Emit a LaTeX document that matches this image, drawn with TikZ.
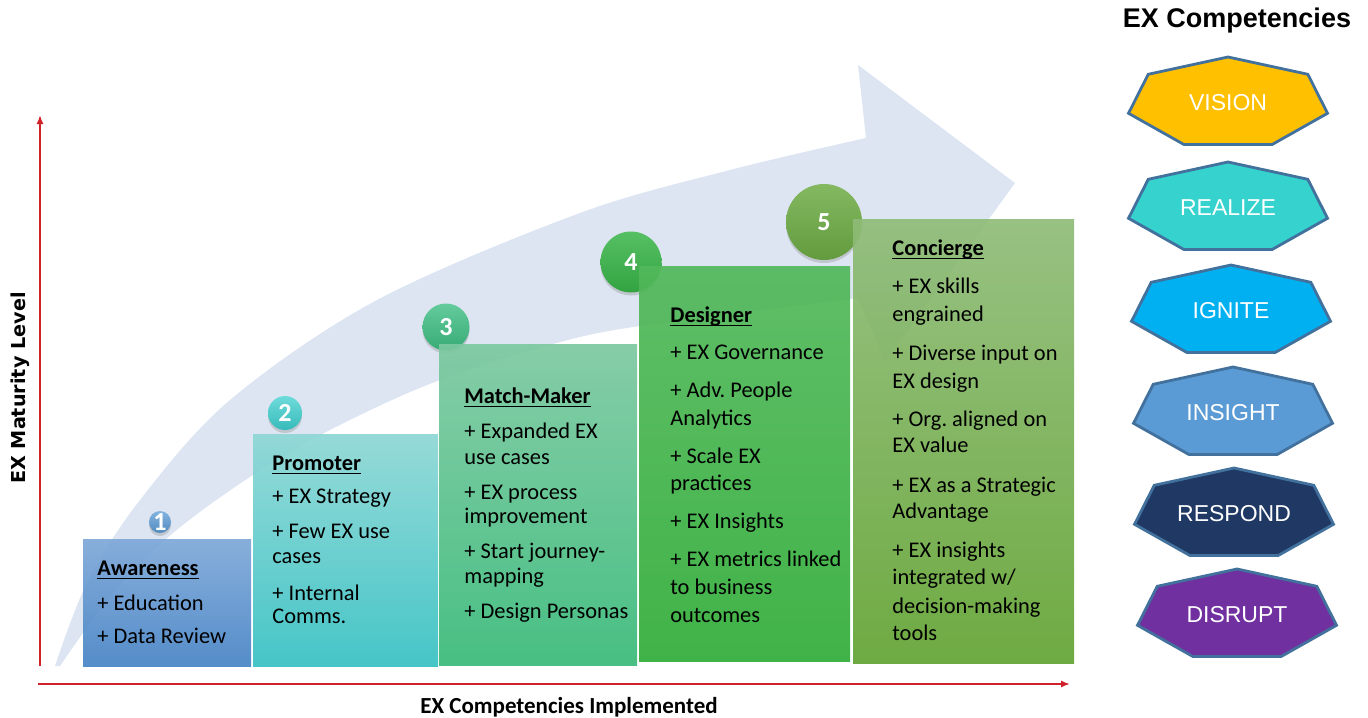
\documentclass[tikz,border=0pt]{standalone}
\usepackage{fontspec}
\setmainfont{Carlito}
\newfontfamily\arialfont{Liberation Sans}
\newfontfamily\dejavufont{DejaVu Sans}
\usetikzlibrary{arrows.meta,shadows}
\frenchspacing

\definecolor{axisred}{HTML}{D0222A}
\definecolor{arrowblue}{HTML}{DCE5F1}
\definecolor{bA1}{HTML}{7EA8D8}\definecolor{bA2}{HTML}{4683C5}
\definecolor{bB1}{HTML}{8DD7D5}\definecolor{bB2}{HTML}{36C0C2}
\definecolor{bC1}{HTML}{7CC8A0}\definecolor{bC2}{HTML}{38BA79}
\definecolor{bD1}{HTML}{52B85B}\definecolor{bD2}{HTML}{30AD38}
\definecolor{bE1}{HTML}{8FBC78}\definecolor{bE2}{HTML}{62A332}
\definecolor{cA}{HTML}{5B9BD5}\definecolor{cB}{HTML}{3ECFCF}
\definecolor{cC}{HTML}{3DBE83}\definecolor{cD}{HTML}{38B548}
\definecolor{cE}{HTML}{6EAC45}
\definecolor{hexborder}{HTML}{41719C}
\definecolor{visionc}{HTML}{FFC000}
\definecolor{realizec}{HTML}{35D2CE}
\definecolor{ignitec}{HTML}{00B0F0}
\definecolor{insightc}{HTML}{5B9BD5}
\definecolor{respondc}{HTML}{203864}
\definecolor{disruptc}{HTML}{7030A0}

\newlength\ulw
\newcommand\uline[1]{\settowidth{\ulw}{#1}\rlap{\rule[-2.1pt]{\ulw}{0.7pt}}#1}

\begin{document}
\begin{tikzpicture}[x=0.5pt,y=-0.5pt,
  boxtxt/.style={anchor=base west, inner sep=0pt, text=black,
                 font=\fontsize{11.2}{13}\selectfont},
  boxhdr/.style={boxtxt, font=\fontsize{11.2}{13}\selectfont\bfseries},
  stepbox/.style={fill opacity=0.92},
  numcircle/.style={circle, inner sep=0pt, draw=none,
                    drop shadow={shadow xshift=0pt, shadow yshift=-1.5pt, opacity=0.3}},
  numtxt/.style={inner sep=0pt, text=white, font=\fontsize{13}{13}\selectfont\bfseries},
  axisline/.style={draw=axisred, line width=1.1pt, -{Latex[length=4.5pt,width=3.6pt]}},
  hexline/.style={draw=hexborder, line width=1.4pt, line join=miter},
  hextxt/.style={inner sep=0pt, text=white, font=\arialfont\fontsize{11.5}{12}\selectfont}
]
\useasboundingbox (0,0) rectangle (1368,717);

% big background arrow
\fill[arrowblue] plot[smooth, tension=0.55] coordinates {(55,666) (87,583) (140,500) (230,400) (377,300) (580,213) (730,170) (866,138)}
  -- (858,65) -- (1015,183) -- (885,362) -- (858,298)
  -- plot[smooth, tension=0.55] coordinates {(858,298) (700,318) (580,337) (440,380) (330,430) (250,477) (173,533) (113,593) (60,666)} -- cycle;

% axes
\coordinate (yb) at (40,666);
\coordinate (yt) at (40,115);
\coordinate (xl) at (38,684);
\coordinate (xr) at (1070,684);
\draw[axisline] (yb) -- (yt);
\draw[axisline] (xl) -- (xr);
\node[rotate=90, inner sep=0pt, font=\dejavufont\bfseries\fontsize{9.6}{10}\selectfont] (ylab) at (20,388) {EX Maturity Level};
\node[anchor=base, inner sep=0pt, font=\bfseries\fontsize{11.5}{12}\selectfont] (xlab) at (569,713) {EX Competencies Implemented};

% circles (behind boxes)
\node[numcircle, minimum size=11pt, top color=cA!75!white, bottom color=cA!90!black] (c1) at (160,522) {};
\node[numcircle, minimum size=17pt, top color=cB!75!white, bottom color=cB!90!black] (c2) at (285,413) {};
\node[numcircle, minimum size=23.5pt, top color=cC!80!white, bottom color=cC!90!black] (c3) at (446,327) {};
\node[numcircle, minimum size=30.5pt, top color=cD!85!white, bottom color=cD!90!black] (c4) at (631,262) {};
\node[numcircle, minimum size=38pt, top color=cE!85!white, bottom color=cE!90!black] (c5) at (824,222) {};

% step boxes
\shade[stepbox, top color=bA1, bottom color=bA2] (83,539) rectangle (251,666);
\shade[stepbox, top color=bB1, bottom color=bB2] (253,434) rectangle (438,666);
\shade[stepbox, top color=bC1, bottom color=bC2] (439,344) rectangle (637,665);
\shade[stepbox, top color=bD1, bottom color=bD2] (639,266) rectangle (850,661);
\shade[stepbox, top color=bE1, bottom color=bE2] (853,219) rectangle (1074,663);

% numbers
\node[numtxt] (n1) at (c1) {1};
\node[numtxt] (n2) at (c2) {2};
\node[numtxt] (n3) at (c3) {3};
\node[numtxt] (n4) at (c4) {4};
\node[numtxt] (n5) at (c5) {5};

% box 1
\node[boxhdr] (h1) at (97,575) {\uline{Awareness}};
\foreach \ypos/\ltext [count=\i] in {610/{+ Education}, 643/{+ Data Review}}
  \node[boxtxt] (a\i) at (97,\ypos) {\ltext};
% box 2
\node[boxhdr] (h2) at (272,470) {\uline{Promoter}};
\foreach \ypos/\ltext [count=\i] in {503/{+ EX Strategy}, 538/{+ Few EX use}, 563/{cases}, 600/{+ Internal}, 623/{Comms.}}
  \node[boxtxt] (b\i) at (272,\ypos) {\ltext};
% box 3
\node[boxhdr] (h3) at (464,403) {\uline{Match-Maker}};
\foreach \ypos/\ltext [count=\i] in {438/{+ Expanded EX}, 464/{use cases}, 499/{+ EX process}, 523/{improvement}, 558/{+ Start journey-}, 583/{mapping}, 618/{+ Design Personas}}
  \node[boxtxt] (m\i) at (464,\ypos) {\ltext};
% box 4
\node[boxhdr] (h4) at (670,322) {\uline{Designer}};
\foreach \ypos/\ltext [count=\i] in {359/{+ EX Governance}, 397/{+ Adv. People}, 425/{Analytics}, 463/{+ Scale EX}, 490/{practices}, 528/{+ EX Insights}, 566/{+ EX metrics linked}, 594/{to business}, 622/{outcomes}}
  \node[boxtxt] (d\i) at (670,\ypos) {\ltext};
% box 5
\node[boxhdr] (h5) at (892,255) {\uline{Concierge}};
\foreach \ypos/\ltext [count=\i] in {293/{+ EX skills}, 321/{engrained}, 360/{+ Diverse input on}, 388/{EX design}, 426/{+ Org. aligned on}, 452/{EX value}, 492/{+ EX as a Strategic}, 518/{Advantage}, 557/{+ EX insights}, 584/{integrated w/}, 613/{decision-making}, 640/{tools}}
  \node[boxtxt] (e\i) at (892,\ypos) {\ltext};

% competencies
\node[anchor=base, inner sep=0pt, font=\arialfont\bfseries\fontsize{13.5}{14}\selectfont] (title) at (1237,28) {EX Competencies};
\foreach \cx/\cy/\col/\lab/\nm in {1228/103/visionc/VISION/hv, 1228/208/realizec/REALIZE/hr, 1231/311/ignitec/IGNITE/hg, 1233/413/insightc/INSIGHT/hi, 1234/514/respondc/RESPOND/hp, 1237/615/disruptc/DISRUPT/hd}{
  \begin{scope}[shift={(\cx,\cy)}]
    \draw[hexline, fill=\col] (0,-46) -- (79.8,-28.7) -- (99.5,10.3) -- (44.3,41.4) -- (-44.3,41.4) -- (-99.5,10.3) -- (-79.8,-28.7) -- cycle;
  \end{scope}
  \node[hextxt] (\nm) at (\cx,\cy) {\lab};
}
\end{tikzpicture}
\end{document}
